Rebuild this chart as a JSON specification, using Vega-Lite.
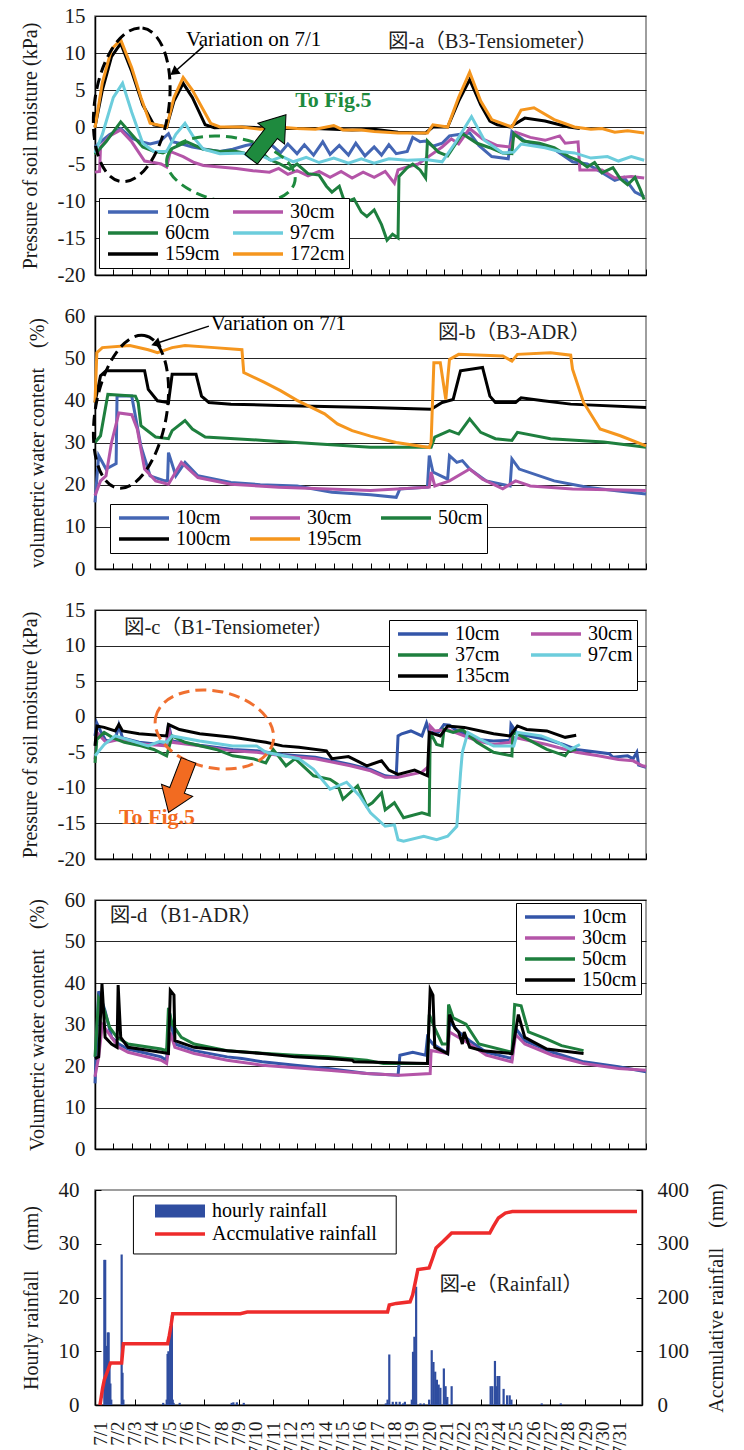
{
"$schema": "https://vega.github.io/schema/vega-lite/v6.json",
"padding": {"left": 19, "top": 4, "right": 5, "bottom": 0},
"spacing": 18,
"config": {
  "font": "Liberation Serif",
  "view": {"stroke": "#7f7f7f", "strokeWidth": 1.5},
  "axis": {"labelFont": "Liberation Serif", "labelFontSize": 21, "labelColor": "#1a1a1a", "titleFont": "Liberation Serif, Noto Sans CJK JP", "titleFontSize": 20, "titleFontWeight": "normal", "titleColor": "#1a1a1a", "domainColor": "#000", "domainWidth": 1.5, "tickColor": "#000", "gridColor": "#000", "gridWidth": 1, "gridOpacity": 0.85},
  "legend": {"labelFont": "Liberation Serif", "labelFontSize": 20, "labelColor": "#000", "labelLimit": 300, "symbolType": "M -1 0 L 9 0", "symbolSize": 100, "symbolStrokeWidth": 3.5, "strokeColor": "#000", "fillColor": "#fff", "padding": 4, "rowPadding": 1, "columnPadding": 6, "labelOffset": 42, "cornerRadius": 0},
  "text": {"font": "Liberation Serif, Noto Sans CJK JP"}
},
"resolve": {"scale": {"x": "independent", "y": "independent", "color": "independent", "fill": "independent", "stroke": "independent"}},
"datasets": {
"a": [
{"s":"10cm","t":0,"v":-2.7},{"s":"10cm","t":0.3,"v":-2.0},{"s":"10cm","t":0.8,"v":-1.0},{"s":"10cm","t":1.4,"v":-0.2},{"s":"10cm","t":2.0,"v":-1.5},{"s":"10cm","t":2.5,"v":-2.0},{"s":"10cm","t":3.0,"v":-2.3},{"s":"10cm","t":3.5,"v":-2.0},{"s":"10cm","t":4.0,"v":-0.9},{"s":"10cm","t":4.2,"v":-2.0},{"s":"10cm","t":4.6,"v":-2.2},{"s":"10cm","t":5.3,"v":-2.7},{"s":"10cm","t":6.0,"v":-3.0},{"s":"10cm","t":6.8,"v":-3.3},{"s":"10cm","t":7.5,"v":-3.0},{"s":"10cm","t":8.2,"v":-2.5},{"s":"10cm","t":8.8,"v":-2.2},{"s":"10cm","t":9.2,"v":-3.2},{"s":"10cm","t":9.6,"v":-2.4},{"s":"10cm","t":10.1,"v":-3.5},{"s":"10cm","t":10.5,"v":-2.3},{"s":"10cm","t":11.0,"v":-3.6},{"s":"10cm","t":11.4,"v":-2.4},{"s":"10cm","t":11.9,"v":-3.8},{"s":"10cm","t":12.4,"v":-2.0},{"s":"10cm","t":12.8,"v":-3.7},{"s":"10cm","t":13.3,"v":-2.5},{"s":"10cm","t":13.8,"v":-3.8},{"s":"10cm","t":14.2,"v":-2.2},{"s":"10cm","t":14.7,"v":-3.9},{"s":"10cm","t":15.2,"v":-2.7},{"s":"10cm","t":15.6,"v":-3.8},{"s":"10cm","t":16.0,"v":-2.4},{"s":"10cm","t":16.4,"v":-3.6},{"s":"10cm","t":17.0,"v":-3.3},{"s":"10cm","t":17.3,"v":-1.4},{"s":"10cm","t":17.7,"v":-2.0},{"s":"10cm","t":18.0,"v":-1.9},{"s":"10cm","t":18.4,"v":-2.6},{"s":"10cm","t":18.9,"v":-2.2},{"s":"10cm","t":19.3,"v":-1.2},{"s":"10cm","t":19.8,"v":-1.0},{"s":"10cm","t":20.4,"v":-0.8},{"s":"10cm","t":20.9,"v":-2.5},{"s":"10cm","t":21.6,"v":-4.0},{"s":"10cm","t":22.5,"v":-4.3},{"s":"10cm","t":22.7,"v":-0.6},{"s":"10cm","t":23.4,"v":-1.9},{"s":"10cm","t":24.2,"v":-2.5},{"s":"10cm","t":25.0,"v":-3.0},{"s":"10cm","t":26.0,"v":-4.7},{"s":"10cm","t":26.8,"v":-5.0},{"s":"10cm","t":27.5,"v":-6.0},{"s":"10cm","t":28.3,"v":-7.2},{"s":"10cm","t":28.8,"v":-6.8},{"s":"10cm","t":29.4,"v":-8.8},{"s":"10cm","t":29.9,"v":-9.4},
{"s":"30cm","t":0,"v":-6.1},{"s":"30cm","t":0.25,"v":-6.0},{"s":"30cm","t":0.3,"v":-2.7},{"s":"30cm","t":0.8,"v":-1.2},{"s":"30cm","t":1.4,"v":-0.4},{"s":"30cm","t":2.0,"v":-2.0},{"s":"30cm","t":2.4,"v":-3.5},{"s":"30cm","t":2.7,"v":-4.6},{"s":"30cm","t":3.2,"v":-4.8},{"s":"30cm","t":3.6,"v":-5.0},{"s":"30cm","t":3.9,"v":-5.4},{"s":"30cm","t":4.1,"v":-3.3},{"s":"30cm","t":4.8,"v":-4.0},{"s":"30cm","t":5.4,"v":-4.8},{"s":"30cm","t":5.9,"v":-5.2},{"s":"30cm","t":6.8,"v":-5.4},{"s":"30cm","t":7.7,"v":-5.6},{"s":"30cm","t":8.6,"v":-5.9},{"s":"30cm","t":9.5,"v":-6.1},{"s":"30cm","t":10.0,"v":-5.6},{"s":"30cm","t":10.5,"v":-6.4},{"s":"30cm","t":11.0,"v":-5.9},{"s":"30cm","t":11.6,"v":-6.6},{"s":"30cm","t":12.2,"v":-6.0},{"s":"30cm","t":12.8,"v":-6.8},{"s":"30cm","t":13.4,"v":-6.0},{"s":"30cm","t":14.0,"v":-6.9},{"s":"30cm","t":14.6,"v":-6.1},{"s":"30cm","t":15.2,"v":-6.8},{"s":"30cm","t":15.8,"v":-6.0},{"s":"30cm","t":16.3,"v":-7.6},{"s":"30cm","t":16.5,"v":-5.8},{"s":"30cm","t":17.0,"v":-5.4},{"s":"30cm","t":17.6,"v":-5.0},{"s":"30cm","t":18.1,"v":-4.1},{"s":"30cm","t":18.9,"v":-2.7},{"s":"30cm","t":19.4,"v":-1.6},{"s":"30cm","t":19.8,"v":-2.3},{"s":"30cm","t":20.4,"v":-0.2},{"s":"30cm","t":21.1,"v":-1.6},{"s":"30cm","t":21.9,"v":-2.5},{"s":"30cm","t":22.6,"v":-2.7},{"s":"30cm","t":22.9,"v":-0.7},{"s":"30cm","t":23.7,"v":-1.4},{"s":"30cm","t":24.5,"v":-1.8},{"s":"30cm","t":25.3,"v":-1.2},{"s":"30cm","t":25.6,"v":-2.2},{"s":"30cm","t":26.3,"v":-2.0},{"s":"30cm","t":26.4,"v":-5.8},{"s":"30cm","t":27.6,"v":-5.8},{"s":"30cm","t":28.3,"v":-6.9},{"s":"30cm","t":29.2,"v":-6.7},{"s":"30cm","t":29.9,"v":-6.9},
{"s":"60cm","t":0,"v":-3.7},{"s":"60cm","t":0.6,"v":-2.0},{"s":"60cm","t":1.4,"v":0.7},{"s":"60cm","t":2.0,"v":-1.0},{"s":"60cm","t":2.6,"v":-2.7},{"s":"60cm","t":3.2,"v":-3.3},{"s":"60cm","t":3.7,"v":-3.5},{"s":"60cm","t":4.3,"v":-2.8},{"s":"60cm","t":5.0,"v":-2.0},{"s":"60cm","t":5.9,"v":-3.0},{"s":"60cm","t":6.8,"v":-3.3},{"s":"60cm","t":7.5,"v":-3.2},{"s":"60cm","t":8.1,"v":-3.5},{"s":"60cm","t":8.7,"v":-4.2},{"s":"60cm","t":9.2,"v":-3.7},{"s":"60cm","t":9.5,"v":-4.4},{"s":"60cm","t":10.0,"v":-4.9},{"s":"60cm","t":10.6,"v":-5.7},{"s":"60cm","t":11.0,"v":-5.0},{"s":"60cm","t":11.6,"v":-6.3},{"s":"60cm","t":12.2,"v":-6.5},{"s":"60cm","t":12.6,"v":-8.0},{"s":"60cm","t":12.9,"v":-8.8},{"s":"60cm","t":13.3,"v":-8.0},{"s":"60cm","t":13.6,"v":-10.2},{"s":"60cm","t":14.1,"v":-9.7},{"s":"60cm","t":14.5,"v":-11.5},{"s":"60cm","t":14.8,"v":-12.1},{"s":"60cm","t":15.2,"v":-11.2},{"s":"60cm","t":15.6,"v":-13.2},{"s":"60cm","t":15.9,"v":-15.3},{"s":"60cm","t":16.2,"v":-14.5},{"s":"60cm","t":16.5,"v":-15.0},{"s":"60cm","t":16.55,"v":-6.7},{"s":"60cm","t":17.0,"v":-5.5},{"s":"60cm","t":17.3,"v":-5.0},{"s":"60cm","t":17.7,"v":-5.8},{"s":"60cm","t":18.0,"v":-6.9},{"s":"60cm","t":18.1,"v":-1.9},{"s":"60cm","t":18.7,"v":-3.4},{"s":"60cm","t":19.2,"v":-3.9},{"s":"60cm","t":20.0,"v":-0.9},{"s":"60cm","t":20.8,"v":-2.2},{"s":"60cm","t":21.5,"v":-2.8},{"s":"60cm","t":22.2,"v":-3.5},{"s":"60cm","t":22.7,"v":-3.6},{"s":"60cm","t":22.8,"v":-0.9},{"s":"60cm","t":23.3,"v":-1.9},{"s":"60cm","t":24.2,"v":-2.2},{"s":"60cm","t":25.0,"v":-2.8},{"s":"60cm","t":25.8,"v":-4.0},{"s":"60cm","t":26.3,"v":-4.5},{"s":"60cm","t":26.8,"v":-5.4},{"s":"60cm","t":27.2,"v":-4.8},{"s":"60cm","t":27.6,"v":-6.2},{"s":"60cm","t":28.2,"v":-5.5},{"s":"60cm","t":28.6,"v":-7.0},{"s":"60cm","t":29.0,"v":-7.8},{"s":"60cm","t":29.4,"v":-6.8},{"s":"60cm","t":29.7,"v":-8.5},{"s":"60cm","t":29.9,"v":-9.8},
{"s":"97cm","t":0,"v":-3.5},{"s":"97cm","t":0.4,"v":-1.0},{"s":"97cm","t":1.0,"v":4.0},{"s":"97cm","t":1.5,"v":5.9},{"s":"97cm","t":2.0,"v":2.0},{"s":"97cm","t":2.6,"v":-2.2},{"s":"97cm","t":3.2,"v":-3.3},{"s":"97cm","t":3.9,"v":-3.3},{"s":"97cm","t":4.4,"v":-1.0},{"s":"97cm","t":4.9,"v":0.5},{"s":"97cm","t":5.4,"v":-1.5},{"s":"97cm","t":5.9,"v":-3.0},{"s":"97cm","t":6.8,"v":-3.6},{"s":"97cm","t":8.1,"v":-3.5},{"s":"97cm","t":8.5,"v":-4.3},{"s":"97cm","t":9.0,"v":-3.8},{"s":"97cm","t":9.6,"v":-4.5},{"s":"97cm","t":10.2,"v":-4.0},{"s":"97cm","t":10.8,"v":-4.7},{"s":"97cm","t":11.5,"v":-4.1},{"s":"97cm","t":12.2,"v":-4.8},{"s":"97cm","t":13.0,"v":-4.2},{"s":"97cm","t":13.8,"v":-4.9},{"s":"97cm","t":14.5,"v":-4.3},{"s":"97cm","t":15.2,"v":-4.9},{"s":"97cm","t":16.0,"v":-4.3},{"s":"97cm","t":17.0,"v":-4.5},{"s":"97cm","t":18.0,"v":-4.4},{"s":"97cm","t":18.9,"v":-4.7},{"s":"97cm","t":19.6,"v":-2.2},{"s":"97cm","t":20.5,"v":1.4},{"s":"97cm","t":21.2,"v":-1.8},{"s":"97cm","t":22.2,"v":-3.5},{"s":"97cm","t":22.8,"v":-3.4},{"s":"97cm","t":23.2,"v":-2.3},{"s":"97cm","t":24.5,"v":-2.8},{"s":"97cm","t":25.3,"v":-3.3},{"s":"97cm","t":26.1,"v":-3.5},{"s":"97cm","t":27.0,"v":-4.2},{"s":"97cm","t":27.9,"v":-4.0},{"s":"97cm","t":28.5,"v":-4.6},{"s":"97cm","t":29.2,"v":-4.0},{"s":"97cm","t":29.9,"v":-4.5},
{"s":"159cm","t":0,"v":0},{"s":"159cm","t":0.4,"v":5.0},{"s":"159cm","t":0.9,"v":9.5},{"s":"159cm","t":1.4,"v":11.3},{"s":"159cm","t":2.0,"v":7.5},{"s":"159cm","t":2.6,"v":3.0},{"s":"159cm","t":3.2,"v":0.3},{"s":"159cm","t":3.9,"v":0},{"s":"159cm","t":4.3,"v":3.5},{"s":"159cm","t":4.8,"v":5.9},{"s":"159cm","t":5.3,"v":4.0},{"s":"159cm","t":6.0,"v":0.3},{"s":"159cm","t":6.5,"v":-0.1},{"s":"159cm","t":8.0,"v":0},{"s":"159cm","t":10.0,"v":-0.2},{"s":"159cm","t":12.0,"v":-0.2},{"s":"159cm","t":14.0,"v":-0.4},{"s":"159cm","t":15.2,"v":-0.3},{"s":"159cm","t":16.5,"v":-0.7},{"s":"159cm","t":18.0,"v":-0.8},{"s":"159cm","t":18.4,"v":0},{"s":"159cm","t":19.2,"v":0},{"s":"159cm","t":19.8,"v":3.5},{"s":"159cm","t":20.4,"v":6.4},{"s":"159cm","t":21.0,"v":3.0},{"s":"159cm","t":21.5,"v":0.8},{"s":"159cm","t":21.9,"v":0.3},{"s":"159cm","t":22.6,"v":0},{"s":"159cm","t":23.4,"v":1.2},{"s":"159cm","t":24.5,"v":0.8},{"s":"159cm","t":25.3,"v":0.3},{"s":"159cm","t":25.8,"v":0},{"s":"159cm","t":26.4,"v":-0.2},
{"s":"172cm","t":0,"v":-0.1},{"s":"172cm","t":0.4,"v":6.0},{"s":"172cm","t":0.9,"v":10.5},{"s":"172cm","t":1.4,"v":11.8},{"s":"172cm","t":2.0,"v":8.0},{"s":"172cm","t":2.5,"v":4.0},{"s":"172cm","t":3.0,"v":0.5},{"s":"172cm","t":3.9,"v":0},{"s":"172cm","t":4.3,"v":4.0},{"s":"172cm","t":4.8,"v":6.7},{"s":"172cm","t":5.3,"v":5.0},{"s":"172cm","t":6.3,"v":0.5},{"s":"172cm","t":6.8,"v":0},{"s":"172cm","t":8.0,"v":0},{"s":"172cm","t":9.0,"v":-0.3},{"s":"172cm","t":10.0,"v":0},{"s":"172cm","t":11.0,"v":-0.2},{"s":"172cm","t":12.0,"v":-0.3},{"s":"172cm","t":13.0,"v":0.2},{"s":"172cm","t":13.5,"v":-0.4},{"s":"172cm","t":14.5,"v":-0.4},{"s":"172cm","t":15.2,"v":-0.6},{"s":"172cm","t":16.5,"v":-0.8},{"s":"172cm","t":18.1,"v":-0.8},{"s":"172cm","t":18.4,"v":0.3},{"s":"172cm","t":19.2,"v":0},{"s":"172cm","t":19.8,"v":4.0},{"s":"172cm","t":20.4,"v":7.4},{"s":"172cm","t":21.0,"v":3.5},{"s":"172cm","t":21.6,"v":1.0},{"s":"172cm","t":22.7,"v":0},{"s":"172cm","t":23.2,"v":2.3},{"s":"172cm","t":23.9,"v":2.6},{"s":"172cm","t":25.0,"v":1.0},{"s":"172cm","t":26.1,"v":0},{"s":"172cm","t":27.0,"v":-0.3},{"s":"172cm","t":27.6,"v":-0.2},{"s":"172cm","t":28.3,"v":-0.7},{"s":"172cm","t":29.0,"v":-0.5},{"s":"172cm","t":29.9,"v":-0.8}
],
"b": [
{"s":"10cm","t":0,"v":15.8},{"s":"10cm","t":0.2,"v":26.9},{"s":"10cm","t":0.4,"v":25.3},{"s":"10cm","t":0.6,"v":23.7},{"s":"10cm","t":1.15,"v":25.0},{"s":"10cm","t":1.2,"v":41},{"s":"10cm","t":2.0,"v":41},{"s":"10cm","t":2.5,"v":29.1},{"s":"10cm","t":3.0,"v":22.1},{"s":"10cm","t":3.8,"v":20.9},{"s":"10cm","t":3.95,"v":20.9},{"s":"10cm","t":4.0,"v":27.6},{"s":"10cm","t":4.4,"v":22.1},{"s":"10cm","t":4.9,"v":25.3},{"s":"10cm","t":5.6,"v":22.1},{"s":"10cm","t":7.4,"v":20.5},{"s":"10cm","t":9.0,"v":20.0},{"s":"10cm","t":11.0,"v":19.7},{"s":"10cm","t":12.9,"v":18.2},{"s":"10cm","t":15.0,"v":17.6},{"s":"10cm","t":16.4,"v":17.0},{"s":"10cm","t":16.6,"v":19.0},{"s":"10cm","t":18.1,"v":19.4},{"s":"10cm","t":18.2,"v":26.9},{"s":"10cm","t":18.4,"v":23.0},{"s":"10cm","t":19.2,"v":21.3},{"s":"10cm","t":19.3,"v":26.9},{"s":"10cm","t":19.7,"v":25.3},{"s":"10cm","t":20.0,"v":25.7},{"s":"10cm","t":20.4,"v":23.7},{"s":"10cm","t":21.3,"v":20.9},{"s":"10cm","t":22.6,"v":19.7},{"s":"10cm","t":22.7,"v":26.1},{"s":"10cm","t":23.1,"v":23.7},{"s":"10cm","t":25.0,"v":20.9},{"s":"10cm","t":26.8,"v":19.4},{"s":"10cm","t":28.5,"v":18.5},{"s":"10cm","t":30,"v":17.8},
{"s":"30cm","t":0,"v":17.4},{"s":"30cm","t":0.3,"v":20.9},{"s":"30cm","t":0.6,"v":22.1},{"s":"30cm","t":0.9,"v":30},{"s":"30cm","t":1.3,"v":37},{"s":"30cm","t":2.0,"v":36.6},{"s":"30cm","t":2.3,"v":33.2},{"s":"30cm","t":2.7,"v":23.7},{"s":"30cm","t":3.3,"v":20.9},{"s":"30cm","t":4.0,"v":20.1},{"s":"30cm","t":4.7,"v":25.3},{"s":"30cm","t":5.6,"v":21.7},{"s":"30cm","t":7.4,"v":20.1},{"s":"30cm","t":10.0,"v":19.4},{"s":"30cm","t":15.0,"v":18.6},{"s":"30cm","t":18.2,"v":19.4},{"s":"30cm","t":18.3,"v":23.0},{"s":"30cm","t":18.5,"v":19.7},{"s":"30cm","t":19.3,"v":20.9},{"s":"30cm","t":20.4,"v":23.7},{"s":"30cm","t":21.1,"v":21.3},{"s":"30cm","t":22.2,"v":19.0},{"s":"30cm","t":22.9,"v":20.9},{"s":"30cm","t":23.7,"v":19.7},{"s":"30cm","t":26.0,"v":19.0},{"s":"30cm","t":30,"v":18.6},
{"s":"50cm","t":0,"v":30},{"s":"50cm","t":0.3,"v":31.6},{"s":"50cm","t":0.7,"v":41.4},{"s":"50cm","t":2.2,"v":41},{"s":"50cm","t":2.35,"v":39.5},{"s":"50cm","t":2.5,"v":34},{"s":"50cm","t":3.3,"v":31.3},{"s":"50cm","t":4.0,"v":30.9},{"s":"50cm","t":4.2,"v":32.8},{"s":"50cm","t":4.9,"v":35.2},{"s":"50cm","t":5.3,"v":33.2},{"s":"50cm","t":6.0,"v":31.3},{"s":"50cm","t":9.2,"v":30.5},{"s":"50cm","t":12.0,"v":29.7},{"s":"50cm","t":15.0,"v":28.9},{"s":"50cm","t":18.3,"v":28.9},{"s":"50cm","t":18.5,"v":31.3},{"s":"50cm","t":19.3,"v":32.8},{"s":"50cm","t":19.8,"v":32.0},{"s":"50cm","t":20.4,"v":35.6},{"s":"50cm","t":21.0,"v":32.4},{"s":"50cm","t":21.8,"v":30.9},{"s":"50cm","t":22.7,"v":30.5},{"s":"50cm","t":23.0,"v":32.4},{"s":"50cm","t":24.8,"v":30.9},{"s":"50cm","t":27.7,"v":30.1},{"s":"50cm","t":30,"v":28.9},
{"s":"100cm","t":0,"v":39.5},{"s":"100cm","t":0.3,"v":45.8},{"s":"100cm","t":0.6,"v":47},{"s":"100cm","t":2.7,"v":47},{"s":"100cm","t":2.9,"v":42.6},{"s":"100cm","t":3.4,"v":39.9},{"s":"100cm","t":4.0,"v":39.5},{"s":"100cm","t":4.2,"v":46.2},{"s":"100cm","t":5.5,"v":46.2},{"s":"100cm","t":5.8,"v":41},{"s":"100cm","t":6.2,"v":39.5},{"s":"100cm","t":7.4,"v":39.1},{"s":"100cm","t":10,"v":38.8},{"s":"100cm","t":15,"v":38.3},{"s":"100cm","t":18.3,"v":37.9},{"s":"100cm","t":18.9,"v":39.5},{"s":"100cm","t":19.5,"v":40.2},{"s":"100cm","t":19.9,"v":47},{"s":"100cm","t":21.1,"v":47.8},{"s":"100cm","t":21.5,"v":41},{"s":"100cm","t":21.8,"v":39.5},{"s":"100cm","t":22.9,"v":39.5},{"s":"100cm","t":23.2,"v":40.6},{"s":"100cm","t":24.4,"v":39.9},{"s":"100cm","t":25.9,"v":39.1},{"s":"100cm","t":30,"v":38.3},
{"s":"195cm","t":0,"v":39.5},{"s":"195cm","t":0.1,"v":51.3},{"s":"195cm","t":0.4,"v":52.5},{"s":"195cm","t":1.9,"v":53},{"s":"195cm","t":2.9,"v":52},{"s":"195cm","t":3.4,"v":51.3},{"s":"195cm","t":4.2,"v":52.5},{"s":"195cm","t":4.9,"v":53},{"s":"195cm","t":6.5,"v":52.5},{"s":"195cm","t":8.0,"v":52},{"s":"195cm","t":8.1,"v":46.6},{"s":"195cm","t":9.2,"v":44.3},{"s":"195cm","t":10.1,"v":42.3},{"s":"195cm","t":11.0,"v":40},{"s":"195cm","t":12.5,"v":36.8},{"s":"195cm","t":13.2,"v":34.4},{"s":"195cm","t":14.0,"v":32.8},{"s":"195cm","t":15.0,"v":31.5},{"s":"195cm","t":16.4,"v":30},{"s":"195cm","t":18.2,"v":28.8},{"s":"195cm","t":18.3,"v":30},{"s":"195cm","t":18.45,"v":48.9},{"s":"195cm","t":18.8,"v":48.9},{"s":"195cm","t":19.1,"v":40.2},{"s":"195cm","t":19.3,"v":49.7},{"s":"195cm","t":19.8,"v":50.9},{"s":"195cm","t":22.2,"v":50.5},{"s":"195cm","t":22.7,"v":49.3},{"s":"195cm","t":23.0,"v":50.9},{"s":"195cm","t":24.8,"v":51.3},{"s":"195cm","t":25.9,"v":50.7},{"s":"195cm","t":26.0,"v":47.4},{"s":"195cm","t":26.6,"v":39.5},{"s":"195cm","t":27.5,"v":33.2},{"s":"195cm","t":28.6,"v":31.6},{"s":"195cm","t":30,"v":29.2}
],
"c": [
{"s":"10cm","t":0,"v":-2.7},{"s":"10cm","t":0.1,"v":-0.9},{"s":"10cm","t":0.3,"v":-2.0},{"s":"10cm","t":0.6,"v":-3.4},{"s":"10cm","t":1.1,"v":-3.2},{"s":"10cm","t":1.3,"v":-1.2},{"s":"10cm","t":1.5,"v":-3.0},{"s":"10cm","t":2.4,"v":-3.6},{"s":"10cm","t":3.9,"v":-4.0},{"s":"10cm","t":4.0,"v":-1.0},{"s":"10cm","t":4.2,"v":-3.4},{"s":"10cm","t":5.7,"v":-4.0},{"s":"10cm","t":7.5,"v":-4.6},{"s":"10cm","t":8.8,"v":-4.8},{"s":"10cm","t":10.2,"v":-5.3},{"s":"10cm","t":12.0,"v":-5.7},{"s":"10cm","t":13.9,"v":-6.7},{"s":"10cm","t":15.0,"v":-7.4},{"s":"10cm","t":15.8,"v":-8.3},{"s":"10cm","t":16.4,"v":-8.5},{"s":"10cm","t":16.5,"v":-2.7},{"s":"10cm","t":16.7,"v":-2.4},{"s":"10cm","t":17.2,"v":-2.0},{"s":"10cm","t":17.8,"v":-2.7},{"s":"10cm","t":18.05,"v":-0.9},{"s":"10cm","t":18.2,"v":-2.2},{"s":"10cm","t":18.7,"v":-2.2},{"s":"10cm","t":19.0,"v":-1.1},{"s":"10cm","t":19.3,"v":-1.2},{"s":"10cm","t":19.6,"v":-1.8},{"s":"10cm","t":20.8,"v":-3.2},{"s":"10cm","t":21.7,"v":-3.4},{"s":"10cm","t":22.6,"v":-3.3},{"s":"10cm","t":22.65,"v":-1.1},{"s":"10cm","t":23.0,"v":-2.4},{"s":"10cm","t":24.6,"v":-3.2},{"s":"10cm","t":25.5,"v":-3.9},{"s":"10cm","t":26.2,"v":-4.6},{"s":"10cm","t":27.4,"v":-5.0},{"s":"10cm","t":28.0,"v":-5.2},{"s":"10cm","t":28.2,"v":-5.7},{"s":"10cm","t":29.0,"v":-5.5},{"s":"10cm","t":29.3,"v":-5.9},{"s":"10cm","t":29.5,"v":-5.0},{"s":"10cm","t":29.6,"v":-6.8},{"s":"10cm","t":30,"v":-7.1},
{"s":"30cm","t":0,"v":-6.0},{"s":"30cm","t":0.1,"v":-2.2},{"s":"30cm","t":0.6,"v":-3.6},{"s":"30cm","t":1.3,"v":-3.2},{"s":"30cm","t":2.4,"v":-3.8},{"s":"30cm","t":3.9,"v":-4.1},{"s":"30cm","t":4.0,"v":-1.5},{"s":"30cm","t":4.2,"v":-3.6},{"s":"30cm","t":5.7,"v":-4.1},{"s":"30cm","t":7.5,"v":-4.8},{"s":"30cm","t":8.8,"v":-5.0},{"s":"30cm","t":10.2,"v":-5.5},{"s":"30cm","t":12.0,"v":-5.9},{"s":"30cm","t":13.9,"v":-6.9},{"s":"30cm","t":15.0,"v":-7.6},{"s":"30cm","t":15.8,"v":-8.5},{"s":"30cm","t":16.5,"v":-8.5},{"s":"30cm","t":17.8,"v":-7.8},{"s":"30cm","t":18.2,"v":-6.9},{"s":"30cm","t":18.25,"v":-1.3},{"s":"30cm","t":18.5,"v":-2.0},{"s":"30cm","t":19.2,"v":-1.8},{"s":"30cm","t":20.8,"v":-3.4},{"s":"30cm","t":21.7,"v":-3.9},{"s":"30cm","t":22.6,"v":-3.6},{"s":"30cm","t":22.7,"v":-2.9},{"s":"30cm","t":23.0,"v":-3.0},{"s":"30cm","t":24.6,"v":-3.9},{"s":"30cm","t":26.2,"v":-5.0},{"s":"30cm","t":27.4,"v":-5.5},{"s":"30cm","t":28.5,"v":-6.0},{"s":"30cm","t":29.3,"v":-6.2},{"s":"30cm","t":29.8,"v":-6.9},{"s":"30cm","t":30,"v":-7.0},
{"s":"37cm","t":0,"v":-6.5},{"s":"37cm","t":0.1,"v":-3.2},{"s":"37cm","t":0.5,"v":-2.2},{"s":"37cm","t":1.0,"v":-3.0},{"s":"37cm","t":1.6,"v":-3.6},{"s":"37cm","t":2.5,"v":-4.1},{"s":"37cm","t":3.2,"v":-4.6},{"s":"37cm","t":3.9,"v":-5.5},{"s":"37cm","t":4.2,"v":-2.7},{"s":"37cm","t":4.9,"v":-3.6},{"s":"37cm","t":6.6,"v":-4.6},{"s":"37cm","t":7.5,"v":-5.5},{"s":"37cm","t":8.6,"v":-5.9},{"s":"37cm","t":9.3,"v":-6.5},{"s":"37cm","t":9.7,"v":-4.6},{"s":"37cm","t":10.4,"v":-6.9},{"s":"37cm","t":10.9,"v":-5.9},{"s":"37cm","t":11.9,"v":-8.3},{"s":"37cm","t":12.8,"v":-8.8},{"s":"37cm","t":13.2,"v":-9.5},{"s":"37cm","t":13.5,"v":-11.6},{"s":"37cm","t":14.3,"v":-9.7},{"s":"37cm","t":14.8,"v":-12.6},{"s":"37cm","t":15.1,"v":-12.1},{"s":"37cm","t":15.6,"v":-10.7},{"s":"37cm","t":15.8,"v":-13.1},{"s":"37cm","t":16.3,"v":-12.1},{"s":"37cm","t":16.8,"v":-14.2},{"s":"37cm","t":17.8,"v":-13.5},{"s":"37cm","t":18.2,"v":-13.8},{"s":"37cm","t":18.25,"v":-2.2},{"s":"37cm","t":18.6,"v":-3.9},{"s":"37cm","t":18.9,"v":-4.1},{"s":"37cm","t":19.0,"v":-1.8},{"s":"37cm","t":19.5,"v":-2.2},{"s":"37cm","t":20.0,"v":-1.8},{"s":"37cm","t":20.8,"v":-3.6},{"s":"37cm","t":21.7,"v":-5.0},{"s":"37cm","t":22.7,"v":-5.5},{"s":"37cm","t":22.75,"v":-2.2},{"s":"37cm","t":23.2,"v":-2.7},{"s":"37cm","t":24.6,"v":-4.6},{"s":"37cm","t":25.6,"v":-5.5},{"s":"37cm","t":25.8,"v":-4.8},{"s":"37cm","t":26.2,"v":-4.6},
{"s":"97cm","t":0,"v":-5.5},{"s":"97cm","t":0.5,"v":-3.9},{"s":"97cm","t":1.1,"v":-2.7},{"s":"97cm","t":2.0,"v":-3.4},{"s":"97cm","t":2.9,"v":-4.1},{"s":"97cm","t":3.5,"v":-3.5},{"s":"97cm","t":3.9,"v":-3.6},{"s":"97cm","t":4.2,"v":-2.7},{"s":"97cm","t":5.7,"v":-3.4},{"s":"97cm","t":7.5,"v":-4.1},{"s":"97cm","t":8.8,"v":-4.1},{"s":"97cm","t":9.3,"v":-5.0},{"s":"97cm","t":11.1,"v":-5.9},{"s":"97cm","t":11.9,"v":-7.4},{"s":"97cm","t":12.8,"v":-10.2},{"s":"97cm","t":13.7,"v":-9.2},{"s":"97cm","t":14.4,"v":-11.1},{"s":"97cm","t":15.0,"v":-13.5},{"s":"97cm","t":15.8,"v":-15.4},{"s":"97cm","t":16.3,"v":-15.2},{"s":"97cm","t":16.5,"v":-17.3},{"s":"97cm","t":16.8,"v":-17.5},{"s":"97cm","t":17.9,"v":-16.8},{"s":"97cm","t":18.6,"v":-17.3},{"s":"97cm","t":19.2,"v":-16.8},{"s":"97cm","t":19.7,"v":-15.4},{"s":"97cm","t":19.9,"v":-8.0},{"s":"97cm","t":20.0,"v":-5.0},{"s":"97cm","t":20.3,"v":-2.2},{"s":"97cm","t":21.0,"v":-3.2},{"s":"97cm","t":21.7,"v":-4.1},{"s":"97cm","t":22.8,"v":-4.1},{"s":"97cm","t":23.0,"v":-2.2},{"s":"97cm","t":24.3,"v":-2.7},{"s":"97cm","t":25.2,"v":-3.6},{"s":"97cm","t":25.9,"v":-4.6},{"s":"97cm","t":26.4,"v":-3.9},
{"s":"135cm","t":0,"v":-4.1},{"s":"135cm","t":0.1,"v":-1.3},{"s":"135cm","t":0.5,"v":-1.5},{"s":"135cm","t":1.1,"v":-2.0},{"s":"135cm","t":1.3,"v":-1.1},{"s":"135cm","t":1.5,"v":-2.0},{"s":"135cm","t":2.4,"v":-2.4},{"s":"135cm","t":3.9,"v":-2.7},{"s":"135cm","t":4.0,"v":-1.1},{"s":"135cm","t":4.6,"v":-1.8},{"s":"135cm","t":5.7,"v":-2.4},{"s":"135cm","t":7.5,"v":-2.9},{"s":"135cm","t":9.3,"v":-3.6},{"s":"135cm","t":10.2,"v":-4.1},{"s":"135cm","t":11.1,"v":-4.3},{"s":"135cm","t":12.6,"v":-4.8},{"s":"135cm","t":12.9,"v":-5.9},{"s":"135cm","t":13.8,"v":-5.6},{"s":"135cm","t":14.8,"v":-6.9},{"s":"135cm","t":15.6,"v":-6.2},{"s":"135cm","t":16.0,"v":-7.5},{"s":"135cm","t":16.5,"v":-8.1},{"s":"135cm","t":17.4,"v":-7.5},{"s":"135cm","t":18.1,"v":-8.3},{"s":"135cm","t":18.2,"v":-2.2},{"s":"135cm","t":18.8,"v":-2.7},{"s":"135cm","t":19.2,"v":-1.3},{"s":"135cm","t":20.1,"v":-1.5},{"s":"135cm","t":21.0,"v":-2.0},{"s":"135cm","t":21.7,"v":-2.4},{"s":"135cm","t":22.6,"v":-2.7},{"s":"135cm","t":23.0,"v":-1.3},{"s":"135cm","t":23.5,"v":-1.8},{"s":"135cm","t":24.6,"v":-2.0},{"s":"135cm","t":25.6,"v":-2.9},{"s":"135cm","t":26.2,"v":-2.6}
],
"d": [
{"s":"10cm","t":0,"v":15.8},{"s":"10cm","t":0.2,"v":38},{"s":"10cm","t":0.55,"v":33.3},{"s":"10cm","t":0.9,"v":26.9},{"s":"10cm","t":1.3,"v":25.3},{"s":"10cm","t":1.8,"v":24.1},{"s":"10cm","t":3.6,"v":22.2},{"s":"10cm","t":3.9,"v":21.4},{"s":"10cm","t":4.05,"v":33},{"s":"10cm","t":4.35,"v":25.3},{"s":"10cm","t":5.4,"v":23.7},{"s":"10cm","t":7.2,"v":22.2},{"s":"10cm","t":8.0,"v":21.8},{"s":"10cm","t":9.1,"v":21.0},{"s":"10cm","t":10.9,"v":20.2},{"s":"10cm","t":12.7,"v":19.4},{"s":"10cm","t":14.8,"v":18.2},{"s":"10cm","t":16.5,"v":17.8},{"s":"10cm","t":16.6,"v":22.6},{"s":"10cm","t":17.3,"v":23.3},{"s":"10cm","t":18.0,"v":22.6},{"s":"10cm","t":18.1,"v":26.9},{"s":"10cm","t":18.4,"v":25.3},{"s":"10cm","t":19.2,"v":23.0},{"s":"10cm","t":19.3,"v":30.8},{"s":"10cm","t":19.8,"v":28.2},{"s":"10cm","t":20.4,"v":26.1},{"s":"10cm","t":21.3,"v":23.3},{"s":"10cm","t":22.7,"v":21.8},{"s":"10cm","t":22.9,"v":29.1},{"s":"10cm","t":23.4,"v":26.1},{"s":"10cm","t":24.9,"v":23.3},{"s":"10cm","t":26.6,"v":21.0},{"s":"10cm","t":28.5,"v":19.8},{"s":"10cm","t":30,"v":18.6},
{"s":"30cm","t":0,"v":17.4},{"s":"30cm","t":0.2,"v":22.2},{"s":"30cm","t":0.4,"v":30},{"s":"30cm","t":0.9,"v":26.9},{"s":"30cm","t":1.3,"v":24.5},{"s":"30cm","t":1.8,"v":23.3},{"s":"30cm","t":3.6,"v":21.4},{"s":"30cm","t":3.9,"v":20.6},{"s":"30cm","t":4.1,"v":28},{"s":"30cm","t":4.35,"v":24.5},{"s":"30cm","t":5.4,"v":23.0},{"s":"30cm","t":7.2,"v":21.4},{"s":"30cm","t":9.1,"v":20.2},{"s":"30cm","t":10.9,"v":19.6},{"s":"30cm","t":12.7,"v":19.0},{"s":"30cm","t":14.8,"v":18.2},{"s":"30cm","t":16.6,"v":17.8},{"s":"30cm","t":18.25,"v":18.2},{"s":"30cm","t":18.3,"v":23.7},{"s":"30cm","t":19.2,"v":23.0},{"s":"30cm","t":19.3,"v":28.2},{"s":"30cm","t":20.4,"v":25.3},{"s":"30cm","t":21.3,"v":22.6},{"s":"30cm","t":22.7,"v":21.0},{"s":"30cm","t":22.9,"v":27.6},{"s":"30cm","t":23.4,"v":25.3},{"s":"30cm","t":24.9,"v":22.6},{"s":"30cm","t":26.6,"v":20.6},{"s":"30cm","t":28.5,"v":19.4},{"s":"30cm","t":30,"v":19.0},
{"s":"50cm","t":0,"v":22.2},{"s":"50cm","t":0.2,"v":36.4},{"s":"50cm","t":0.4,"v":34.9},{"s":"50cm","t":0.8,"v":29.3},{"s":"50cm","t":1.2,"v":26.9},{"s":"50cm","t":1.5,"v":26.1},{"s":"50cm","t":1.8,"v":25.3},{"s":"50cm","t":3.6,"v":24.1},{"s":"50cm","t":3.9,"v":23.7},{"s":"50cm","t":4.0,"v":34},{"s":"50cm","t":4.2,"v":30.1},{"s":"50cm","t":4.7,"v":26.9},{"s":"50cm","t":5.4,"v":25.3},{"s":"50cm","t":7.2,"v":23.7},{"s":"50cm","t":9.1,"v":23.1},{"s":"50cm","t":10.9,"v":22.6},{"s":"50cm","t":12.7,"v":22.2},{"s":"50cm","t":14.8,"v":21.4},{"s":"50cm","t":15.7,"v":20.6},{"s":"50cm","t":18.1,"v":20.6},{"s":"50cm","t":18.2,"v":32.4},{"s":"50cm","t":18.5,"v":29.1},{"s":"50cm","t":18.9,"v":25.3},{"s":"50cm","t":19.2,"v":25.3},{"s":"50cm","t":19.25,"v":34.8},{"s":"50cm","t":19.5,"v":31.6},{"s":"50cm","t":20.2,"v":30.1},{"s":"50cm","t":20.9,"v":25.3},{"s":"50cm","t":22.7,"v":23.3},{"s":"50cm","t":22.85,"v":34.8},{"s":"50cm","t":23.2,"v":34.5},{"s":"50cm","t":23.6,"v":28.2},{"s":"50cm","t":24.6,"v":26.5},{"s":"50cm","t":25.4,"v":24.9},{"s":"50cm","t":26.6,"v":23.7},
{"s":"150cm","t":0,"v":21.8},{"s":"150cm","t":0.2,"v":22.2},{"s":"150cm","t":0.38,"v":39.8},{"s":"150cm","t":0.55,"v":26.9},{"s":"150cm","t":0.9,"v":25.3},{"s":"150cm","t":1.2,"v":24.5},{"s":"150cm","t":1.26,"v":39.5},{"s":"150cm","t":1.4,"v":26.9},{"s":"150cm","t":1.8,"v":24.5},{"s":"150cm","t":3.6,"v":23.3},{"s":"150cm","t":4.0,"v":23.0},{"s":"150cm","t":4.1,"v":38.2},{"s":"150cm","t":4.3,"v":37.1},{"s":"150cm","t":4.35,"v":26.1},{"s":"150cm","t":5.4,"v":24.5},{"s":"150cm","t":7.2,"v":23.7},{"s":"150cm","t":9.1,"v":23.0},{"s":"150cm","t":10.9,"v":22.2},{"s":"150cm","t":12.7,"v":21.8},{"s":"150cm","t":14.0,"v":21.4},{"s":"150cm","t":14.1,"v":21.0},{"s":"150cm","t":18.1,"v":20.6},{"s":"150cm","t":18.25,"v":38.4},{"s":"150cm","t":18.4,"v":37.1},{"s":"150cm","t":18.5,"v":24.5},{"s":"150cm","t":19.2,"v":23.0},{"s":"150cm","t":19.3,"v":32.4},{"s":"150cm","t":19.6,"v":29.1},{"s":"150cm","t":19.8,"v":28.2},{"s":"150cm","t":20.0,"v":25.3},{"s":"150cm","t":20.1,"v":28.2},{"s":"150cm","t":20.4,"v":24.5},{"s":"150cm","t":21.1,"v":23.7},{"s":"150cm","t":22.7,"v":23.0},{"s":"150cm","t":23.05,"v":32.4},{"s":"150cm","t":23.4,"v":26.9},{"s":"150cm","t":24.6,"v":24.1},{"s":"150cm","t":26.6,"v":23.0}
],
"rain": [
{"t":0.25,"v":27},{"t":0.3,"v":27},{"t":0.4,"v":11},{"t":0.45,"v":13.5},{"t":0.5,"v":13.5},{"t":0.55,"v":8},{"t":0.6,"v":4},{"t":0.65,"v":1},{"t":1.25,"v":28},{"t":1.3,"v":6},{"t":1.35,"v":1},{"t":3.65,"v":0.4},{"t":3.85,"v":1},{"t":3.9,"v":9.5},{"t":3.95,"v":10},{"t":4.05,"v":14.2},{"t":4.1,"v":15},{"t":4.15,"v":16.7},{"t":4.2,"v":1},{"t":4.25,"v":0.4},{"t":4.6,"v":0.4},{"t":7.6,"v":0.4},{"t":7.7,"v":0.5},{"t":7.9,"v":0.5},{"t":8.3,"v":0.4},{"t":16.5,"v":0.3},{"t":16.6,"v":1.0},{"t":16.7,"v":9.4},{"t":16.9,"v":0.6},{"t":17.1,"v":0.6},{"t":17.3,"v":0.6},{"t":17.5,"v":0.3},{"t":17.6,"v":0.6},{"t":18.0,"v":1.0},{"t":18.07,"v":9.9},{"t":18.15,"v":12.7},{"t":18.25,"v":22.0},{"t":18.5,"v":0.3},{"t":18.7,"v":0.3},{"t":19.0,"v":1.0},{"t":19.15,"v":10.2},{"t":19.25,"v":8.0},{"t":19.35,"v":6.2},{"t":19.45,"v":4.7},{"t":19.55,"v":3.8},{"t":19.65,"v":3.2},{"t":19.85,"v":6.8},{"t":19.95,"v":3.5},{"t":20.05,"v":1.5},{"t":20.3,"v":3.5},{"t":22.55,"v":3.5},{"t":22.65,"v":3.5},{"t":22.8,"v":8.2},{"t":22.9,"v":3.5},{"t":22.95,"v":5.4},{"t":23.05,"v":5.4},{"t":23.3,"v":3.0},{"t":23.5,"v":1.8},{"t":23.65,"v":1.8},{"t":23.75,"v":1.0},{"t":25.5,"v":0.3},{"t":26.6,"v":0.3}
],
"cum": [
{"t":0,"c":0},{"t":0.15,"c":31},{"t":0.25,"c":47},{"t":0.4,"c":60},{"t":0.6,"c":78},{"t":1.25,"c":78},{"t":1.35,"c":114},{"t":3.9,"c":114},{"t":4.0,"c":129},{"t":4.1,"c":148},{"t":4.2,"c":170},{"t":8.1,"c":170},{"t":8.5,"c":173},{"t":16.6,"c":173},{"t":16.7,"c":186},{"t":17.1,"c":189},{"t":17.9,"c":192},{"t":18.05,"c":205},{"t":18.25,"c":236},{"t":18.35,"c":252},{"t":19.0,"c":255},{"t":19.2,"c":273},{"t":19.4,"c":292},{"t":19.8,"c":304},{"t":20.3,"c":320},{"t":22.5,"c":320},{"t":22.7,"c":332},{"t":23.0,"c":348},{"t":23.4,"c":357},{"t":23.8,"c":360},{"t":31,"c":360}
]
},
"vconcat": [
{
  "width": 551, "height": 259,
  "encoding": {
    "x": {"field": "t", "type": "quantitative", "scale": {"domain": [0, 30], "nice": false, "zero": false}, "axis": {"title": null, "labels": false, "values": [0,1,2,3,4,5,6,7,8,9,10,11,12,13,14,15,16,17,18,19,20,21,22,23,24,25,26,27,28,29,30], "tickSize": -6, "grid": false}},
    "y": {"field": "v", "type": "quantitative", "scale": {"domain": [-20, 15], "nice": false, "zero": false}, "axis": {"title": "Pressure of soil moisture (kPa)", "values": [-20,-15,-10,-5,0,5,10,15], "labelExpr": "'' + datum.value", "grid": true, "ticks": false, "labelPadding": 10, "titlePadding": 17}}
  },
  "layer": [
    {"data": {"name": "a"}, "mark": {"type": "line", "strokeWidth": 3},
     "encoding": {"color": {"field": "s", "type": "nominal", "scale": {"domain": ["10cm","60cm","159cm","30cm","97cm","172cm"], "range": ["#4466B4","#1E7F3E","#000000","#B455A8","#6CCDDC","#F5961E"]}, "legend": {"title": null, "orient": "none", "legendX": 4, "legendY": 182, "columns": 2, "columnPadding": 6}}}},
    {"data": {"values": [{"t": 2.0, "v": 3.0}]}, "mark": {"type": "point", "shape": "M 0 -1 A 0.48 1 0 1 1 0 1 A 0.48 1 0 1 1 0 -1 Z", "size": 24000, "angle": 8, "filled": false, "stroke": "#000", "strokeWidth": 3, "strokeDash": [11, 6], "opacity": 1}},
    {"data": {"values": [{"t": 7.4, "v": -5.8}]}, "mark": {"type": "point", "shape": "M -1 0 A 1 0.5 0 1 1 1 0 A 1 0.5 0 1 1 -1 0 Z", "size": 16900, "angle": 10, "filled": false, "stroke": "#1E8A3E", "strokeWidth": 3, "strokeDash": [11, 6], "opacity": 1}},
    {"data": {"values": [{"t": 5.9, "v": 10.9, "t2": 4.4, "v2": 7.6}]}, "mark": {"type": "rule", "stroke": "#000", "strokeWidth": 1.5}, "encoding": {"x2": {"field": "t2"}, "y2": {"field": "v2"}}},
    {"data": {"values": [{"t": 4.3, "v": 7.4}]}, "mark": {"type": "point", "shape": "triangle-up", "size": 110, "angle": 233, "filled": true, "fill": "#000", "opacity": 1}},
    {"data": {"values": [{"t": 4.95, "v": 11.8}]}, "mark": {"type": "text", "text": "Variation on 7/1", "align": "left", "baseline": "middle", "fontSize": 21, "color": "#000"}},
    {"data": {"values": [{"t": 9.45, "v": -1.35}]}, "mark": {"type": "point", "shape": "M -0.28 1 L -0.28 -0.15 L -0.6 -0.15 L 0 -1 L 0.6 -0.15 L 0.28 -0.15 L 0.28 1 Z", "size": 3200, "angle": 38, "filled": true, "fill": "#1E8A3E", "stroke": "#000", "strokeWidth": 1, "opacity": 1}},
    {"data": {"values": [{"t": 10.9, "v": 3.6}]}, "mark": {"type": "text", "text": "To Fig.5", "align": "left", "baseline": "middle", "fontSize": 22, "fontWeight": "bold", "color": "#1E8A3E"}},
    {"data": {"values": [{"t": 15.95, "v": 11.5}]}, "mark": {"type": "text", "text": "図-a（B3-Tensiometer）", "align": "left", "baseline": "middle", "fontSize": 20.5, "color": "#222"}}
  ]
},
{
  "width": 551, "height": 253,
  "encoding": {
    "x": {"field": "t", "type": "quantitative", "scale": {"domain": [0, 30], "nice": false, "zero": false}, "axis": {"title": null, "labels": false, "values": [0,1,2,3,4,5,6,7,8,9,10,11,12,13,14,15,16,17,18,19,20,21,22,23,24,25,26,27,28,29,30], "tickSize": -6, "grid": false}},
    "y": {"field": "v", "type": "quantitative", "scale": {"domain": [0, 60], "nice": false}, "axis": {"title": "volumetric water content　(%)", "values": [0,10,20,30,40,50,60], "grid": true, "ticks": false, "labelPadding": 10, "titlePadding": 17}}
  },
  "layer": [
    {"data": {"name": "b"}, "mark": {"type": "line", "strokeWidth": 3},
     "encoding": {"color": {"field": "s", "type": "nominal", "scale": {"domain": ["10cm","100cm","30cm","195cm","50cm"], "range": ["#4466B4","#000000","#B455A8","#F5961E","#1E7F3E"]}, "legend": {"title": null, "orient": "none", "legendX": 15, "legendY": 188, "columns": 3, "columnPadding": 12}}}},
    {"data": {"values": [{"t": 1.96, "v": 37.3}]}, "mark": {"type": "point", "shape": "M 0 -1 A 0.46 1 0 1 1 0 1 A 0.46 1 0 1 1 0 -1 Z", "size": 24000, "angle": 10, "filled": false, "stroke": "#000", "strokeWidth": 3, "strokeDash": [11, 6], "opacity": 1}},
    {"data": {"values": [{"t": 6.2, "v": 57.6, "t2": 3.4, "v2": 53.6}]}, "mark": {"type": "rule", "stroke": "#000", "strokeWidth": 1.5}, "encoding": {"x2": {"field": "t2"}, "y2": {"field": "v2"}}},
    {"data": {"values": [{"t": 3.3, "v": 53.4}]}, "mark": {"type": "point", "shape": "triangle-up", "size": 110, "angle": 251, "filled": true, "fill": "#000", "opacity": 1}},
    {"data": {"values": [{"t": 6.3, "v": 58.1}]}, "mark": {"type": "text", "text": "Variation on 7/1", "align": "left", "baseline": "middle", "fontSize": 21, "color": "#000"}},
    {"data": {"values": [{"t": 18.67, "v": 56}]}, "mark": {"type": "text", "text": "図-b（B3-ADR）", "align": "left", "baseline": "middle", "fontSize": 20.5, "color": "#222"}}
  ]
},
{
  "width": 551, "height": 249,
  "encoding": {
    "x": {"field": "t", "type": "quantitative", "scale": {"domain": [0, 30], "nice": false, "zero": false}, "axis": {"title": null, "labels": false, "values": [0,1,2,3,4,5,6,7,8,9,10,11,12,13,14,15,16,17,18,19,20,21,22,23,24,25,26,27,28,29,30], "tickSize": -6, "grid": false}},
    "y": {"field": "v", "type": "quantitative", "scale": {"domain": [-20, 15], "nice": false, "zero": false}, "axis": {"title": "Pressure of soil moisture (kPa)", "values": [-20,-15,-10,-5,0,5,10,15], "labelExpr": "'' + datum.value", "grid": true, "ticks": false, "labelPadding": 10, "titlePadding": 17}}
  },
  "layer": [
    {"data": {"name": "c"}, "mark": {"type": "line", "strokeWidth": 3},
     "encoding": {"color": {"field": "s", "type": "nominal", "scale": {"domain": ["10cm","37cm","135cm","30cm","97cm"], "range": ["#3355A8","#1E7F3E","#000000","#B455A8","#6CCDDC"]}, "legend": {"title": null, "orient": "none", "legendX": 294, "legendY": 10, "columns": 2, "columnPadding": 14}}}},
    {"data": {"values": [{"t": 6.5, "v": -1.8}]}, "mark": {"type": "point", "shape": "M -1 0 A 1 0.64 0 1 1 1 0 A 1 0.64 0 1 1 -1 0 Z", "size": 14400, "angle": 12, "filled": false, "stroke": "#F07030", "strokeWidth": 3, "strokeDash": [11, 6], "opacity": 1}},
    {"data": {"values": [{"t": 4.55, "v": -9.8}]}, "mark": {"type": "point", "shape": "M -0.28 1 L -0.28 -0.15 L -0.6 -0.15 L 0 -1 L 0.6 -0.15 L 0.28 -0.15 L 0.28 1 Z", "size": 3100, "angle": 201, "filled": true, "fill": "#F26B21", "stroke": "#000", "strokeWidth": 1, "opacity": 1}},
    {"data": {"values": [{"t": 1.3, "v": -14.1}]}, "mark": {"type": "text", "text": "To Fig.5", "align": "left", "baseline": "middle", "fontSize": 22, "fontWeight": "bold", "color": "#F26B21"}},
    {"data": {"values": [{"t": 1.58, "v": 12.5}]}, "mark": {"type": "text", "text": "図-c（B1-Tensiometer）", "align": "left", "baseline": "middle", "fontSize": 20.5, "color": "#222"}}
  ]
},
{
  "width": 551, "height": 249,
  "encoding": {
    "x": {"field": "t", "type": "quantitative", "scale": {"domain": [0, 30], "nice": false, "zero": false}, "axis": {"title": null, "labels": false, "values": [0,1,2,3,4,5,6,7,8,9,10,11,12,13,14,15,16,17,18,19,20,21,22,23,24,25,26,27,28,29,30], "tickSize": -6, "grid": false}},
    "y": {"field": "v", "type": "quantitative", "scale": {"domain": [0, 60], "nice": false}, "axis": {"title": "Volumetric water content　(%)", "values": [0,10,20,30,40,50,60], "grid": true, "ticks": false, "labelPadding": 10, "titlePadding": 17}}
  },
  "layer": [
    {"data": {"name": "d"}, "mark": {"type": "line", "strokeWidth": 3},
     "encoding": {"color": {"field": "s", "type": "nominal", "scale": {"domain": ["10cm","30cm","50cm","150cm"], "range": ["#3355A8","#B455A8","#1E7F3E","#000000"]}, "legend": {"title": null, "orient": "none", "legendX": 421, "legendY": 3, "columns": 1}}}},
    {"data": {"values": [{"t": 0.8, "v": 56.2}]}, "mark": {"type": "text", "text": "図-d（B1-ADR）", "align": "left", "baseline": "middle", "fontSize": 20.5, "color": "#222"}}
  ]
},
{
  "width": 547, "height": 215,
  "encoding": {
    "x": {"field": "t", "type": "quantitative", "scale": {"domain": [0, 31], "nice": false, "zero": false}, "axis": {"title": null, "values": [0,1,2,3,4,5,6,7,8,9,10,11,12,13,14,15,16,17,18,19,20,21,22,23,24,25,26,27,28,29,30], "labelExpr": "'7/' + (datum.value + 1)", "labelAngle": 270, "labelPadding": 22, "labelFontSize": 19, "labelOverlap": false, "labelBound": false, "tickSize": -6, "tickOpacity": {"condition": {"test": "datum.value % 2 == 0", "value": 1}, "value": 0}, "grid": false}}
  },
  "layer": [
    {
      "encoding": {"y": {"field": "v", "type": "quantitative", "scale": {"domain": [0, 40], "nice": false}, "axis": {"title": "Hourly rainfall　(mm)", "values": [0,10,20,30,40], "grid": false, "tickSize": -6, "labelPadding": 22, "titlePadding": 17}}},
      "layer": [
        {"data": {"values": [{"t": 1.93, "t2": 17.1, "v": 38.9, "v2": 28.1}]}, "mark": {"type": "rect", "fill": "#fff", "stroke": "#000", "strokeWidth": 1}, "encoding": {"x2": {"field": "t2"}, "y2": {"field": "v2"}}},
        {"data": {"name": "rain"}, "mark": {"type": "bar", "size": 2.2},
         "encoding": {"fill": {"datum": "hourly rainfall", "type": "nominal", "scale": {"range": ["#2F4DA0"]}, "legend": {"title": null, "orient": "none", "legendX": 55, "legendY": 11, "symbolType": "M -1 -1.3 L 9 -1.3 L 9 1.3 L -1 1.3 Z", "strokeColor": "transparent", "fillColor": "transparent", "padding": 0}}}},
        {"data": {"values": [{"t": 19.6, "v": 22.3}]}, "mark": {"type": "text", "text": "図-e（Rainfall）", "align": "left", "baseline": "middle", "fontSize": 20.5, "color": "#222"}}
      ]
    },
    {"data": {"name": "cum"}, "mark": {"type": "line", "strokeWidth": 3.5},
     "encoding": {
       "y": {"field": "c", "type": "quantitative", "scale": {"domain": [0, 400], "nice": false}, "axis": {"orient": "right", "title": "Accmulative rainfall　(mm)", "titleAngle": 270, "titleBaseline": "top", "values": [0,100,200,300,400], "grid": false, "tickSize": -6, "labelPadding": 21, "titlePadding": 18}},
       "stroke": {"datum": "Accmulative rainfall", "type": "nominal", "scale": {"range": ["#EE2B2B"]}, "legend": {"title": null, "orient": "none", "legendX": 55, "legendY": 34, "strokeColor": "transparent", "fillColor": "transparent", "padding": 0}}
     }}
  ],
  "resolve": {"scale": {"y": "independent"}}
}
]
}
